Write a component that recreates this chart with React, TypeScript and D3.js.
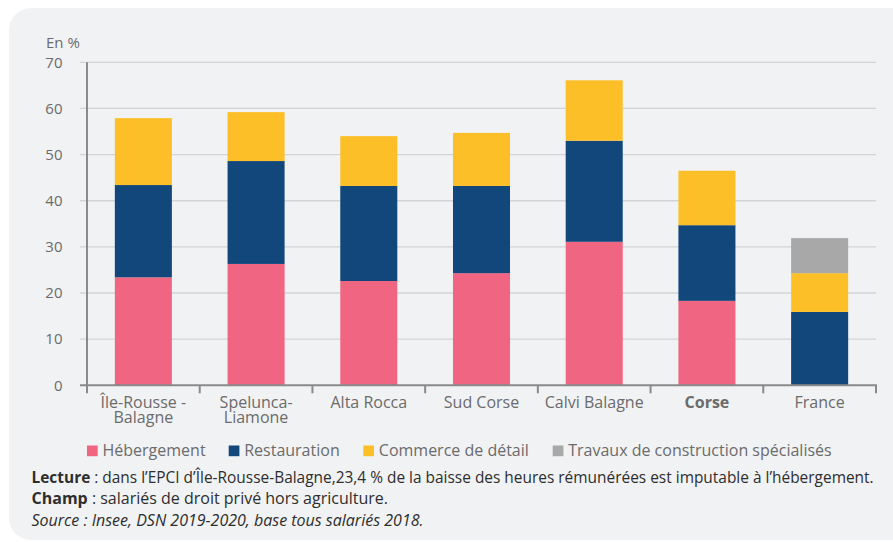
import React from "react";
import * as d3 from "d3";

// Share of the drop in paid hours by sector, per territory (in %)
const categories = [
  "Île-Rousse - Balagne",
  "Spelunca-Liamone",
  "Alta Rocca",
  "Sud Corse",
  "Calvi Balagne",
  "Corse",
  "France",
];
const categoryLines = [
  ["Île-Rousse -", "Balagne"],
  ["Spelunca-", "Liamone"],
  ["Alta Rocca"],
  ["Sud Corse"],
  ["Calvi Balagne"],
  ["Corse"],
  ["France"],
];
const hebergement = [23.4, 26.3, 22.6, 24.3, 31.1, 18.3, 0];
const restauration = [20.0, 22.3, 20.6, 18.9, 21.9, 16.4, 15.9];
const commerce = [14.5, 10.6, 10.8, 11.5, 13.1, 11.8, 8.4];
const travaux = [0, 0, 0, 0, 0, 0, 7.6];
const seriesNames = [
  "Hébergement",
  "Restauration",
  "Commerce de détail",
  "Travaux de construction spécialisés",
];
const yTicks = [0, 10, 20, 30, 40, 50, 60, 70];

const COLORS = ["#f06682", "#12477b", "#fdbf28", "#a8a8a8"];
const FONT = "'Open Sans', sans-serif";

const W = 893;
const H = 542;
const M = { left: 87, right: 876, top: 62.3, bottom: 385.3 };

export default function App() {
  const x = d3
    .scaleBand<string>()
    .domain(categories)
    .range([M.left, M.right])
    .paddingInner(0)
    .paddingOuter(0);
  const y = d3.scaleLinear().domain([0, 70]).range([M.bottom, M.top]);

  const rows = categories.map((c, i) => ({
    cat: c,
    s0: hebergement[i],
    s1: restauration[i],
    s2: commerce[i],
    s3: travaux[i],
  }));
  const stack = d3.stack<any>().keys(["s0", "s1", "s2", "s3"])(rows);

  const bw = x.bandwidth();
  const barW = bw * 0.506;

  const legendX = [87, 228.7, 363.3, 552.7];

  return (
    <div style={{ position: "absolute", left: 0, top: 0 }}>
      <svg width={W} height={H} style={{ display: "block", fontFamily: FONT }}>
        <rect x={0} y={0} width={W} height={H} fill="#ffffff" />
        <rect x={9} y={8} width={W + 20} height={532} rx={22} ry={22} fill="#f1f2f4" />

        {/* horizontal grid */}
        {yTicks.map((t) => (
          <g key={t}>
            {t > 0 && (
              <line x1={80} x2={M.right} y1={y(t)} y2={y(t)} stroke="#d2d3d6" strokeWidth={1.3} />
            )}
            <text x={62.5} y={y(t) + 5.3} textAnchor="end" fontSize={15} fill="#6b6b6b">
              {t}
            </text>
          </g>
        ))}
        <text x={46} y={48.3} fontSize={15} fill="#6b6b6b">
          En %
        </text>

        {/* stacked bars */}
        {stack.map((layer, si) => (
          <g key={si} fill={COLORS[si]}>
            {layer.map((d, i) =>
              d[1] - d[0] > 0 ? (
                <rect
                  key={i}
                  x={(x(categories[i]) as number) + (bw - barW) / 2}
                  y={y(d[1])}
                  width={barW}
                  height={y(d[0]) - y(d[1])}
                />
              ) : null
            )}
          </g>
        ))}

        {/* axes */}
        <line x1={M.left} x2={M.left} y1={M.top} y2={M.bottom} stroke="#8a8a8a" strokeWidth={2} />
        <line x1={80} x2={M.right + 1} y1={M.bottom} y2={M.bottom} stroke="#8a8a8a" strokeWidth={2} />
        {categories.map((c, i) => (
          <line
            key={"tk" + i}
            x1={x(c) as number}
            x2={x(c) as number}
            y1={M.bottom}
            y2={M.bottom + 8}
            stroke="#8a8a8a"
            strokeWidth={2}
          />
        ))}
        <line x1={M.right} x2={M.right} y1={M.bottom} y2={M.bottom + 8} stroke="#8a8a8a" strokeWidth={2} />

        {/* category labels */}
        {categories.map((c, i) => (
          <text
            key={"lb" + i}
            x={(x(c) as number) + bw / 2}
            y={407.5}
            textAnchor="middle"
            fontSize={16}
            fill="#6b6b6b"
            fontWeight={c === "Corse" ? 700 : 400}
          >
            {categoryLines[i].map((ln, j) => (
              <tspan key={j} x={(x(c) as number) + bw / 2} dy={j === 0 ? 0 : 15.5}>
                {ln}
              </tspan>
            ))}
          </text>
        ))}

        {/* legend */}
        {seriesNames.map((n, i) => (
          <g key={"lg" + i}>
            <rect x={legendX[i]} y={445.5} width={10.7} height={10.7} fill={COLORS[i]} />
            <text x={legendX[i] + 15.5} y={456} fontSize={16} fill="#6b6b6b">
              {n}
            </text>
          </g>
        ))}

        {/* notes */}
        <g fill="#2e2e2e">
          <text x={31.5} y={482.7} fontSize={15.45}>
            <tspan fontWeight={700}>Lecture</tspan>
            <tspan> : dans l’EPCI d’Île-Rousse-Balagne,23,4 % de la baisse des heures rémunérées est imputable à l’hébergement.</tspan>
          </text>
          <text x={31.5} y={504.3} fontSize={16}>
            <tspan fontWeight={700}>Champ</tspan>
            <tspan> : salariés de droit privé hors agriculture.</tspan>
          </text>
          <text x={31.5} y={525.7} fontSize={16} fontStyle="italic">
            Source : Insee, DSN 2019-2020, base tous salariés 2018.
          </text>
        </g>
      </svg>
    </div>
  );
}
